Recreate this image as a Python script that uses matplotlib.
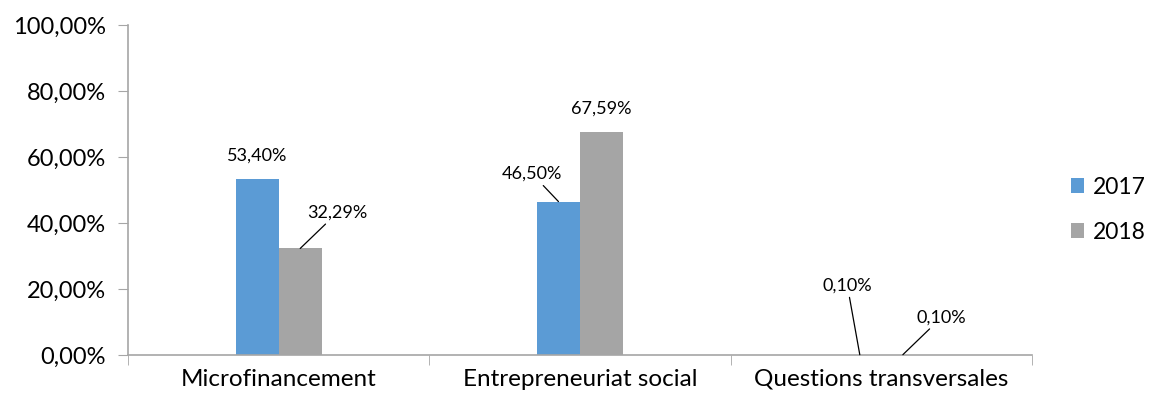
import numpy as np
import matplotlib
matplotlib.use("Agg")
from matplotlib import pyplot as plt

categories = ["Microfinancement", "Entrepreneuriat social", "Questions transversales"]
years = ["2017", "2018"]
values_2017 = [53.40, 46.50, 0.10]
values_2018 = [32.29, 67.59, 0.10]
yticks = [0, 20, 40, 60, 80, 100]

# label offsets in points (dx, dy) from the bar top, and whether a leader line is drawn
offs_2017 = [(0, 17, False), (-19, 20, True), (-9, 50, True)]
offs_2018 = [(27, 26, True), (0, 17, False), (28, 27, True)]

plt.rcParams['font.family'] = ['Lato', 'DejaVu Sans']

fig = plt.figure(figsize=(11.51, 4.0), dpi=100)
ax = fig.add_axes([128/1151, 45/400, (1032-128)/1151, 330/400])

x = np.arange(len(categories))
w = 0.143
colors = ['#5B9BD5', '#A5A5A5']
b1 = ax.bar(x - w/2, values_2017, w, color=colors[0], label=years[0])
b2 = ax.bar(x + w/2, values_2018, w, color=colors[1], label=years[1])

def fmt(v):
    return ("%.2f%%" % v).replace('.', ',')

for bars, vals, offs in [(b1, values_2017, offs_2017), (b2, values_2018, offs_2018)]:
    for bar, v, (dx, dy, lead) in zip(bars, vals, offs):
        xy = (bar.get_x() + bar.get_width()/2, v)
        props = dict(arrowstyle='-', color='black', lw=0.9, shrinkA=1, shrinkB=0) if lead else None
        ax.annotate(fmt(v), xy=xy, xytext=(dx, dy), textcoords='offset points',
                    ha='center', va='center', fontsize=13, arrowprops=props)

ax.set_xlim(-0.5, 2.5)
ax.set_ylim(0, 100)
ax.set_yticks(yticks)
ax.set_yticklabels([fmt(t) for t in yticks], fontsize=17)
ax.set_xticks(x)
ax.set_xticklabels(categories, fontsize=17.5)
ax.tick_params(axis='x', length=0, pad=10)
ax.set_xticks([-0.5, 0.5, 1.5, 2.5], minor=True)
ax.tick_params(axis='x', which='minor', length=7, color='#A6A6A6', direction='out')
ax.tick_params(axis='y', length=7, color='#A6A6A6', direction='out', pad=9)
for s in ['top', 'right']:
    ax.spines[s].set_visible(False)
for s in ['left', 'bottom']:
    ax.spines[s].set_color('#A6A6A6')
    ax.spines[s].set_linewidth(1.2)

ax.legend(loc='center left', bbox_to_anchor=(1.02, 0.44), frameon=False, fontsize=16.5,
          handlelength=0.6, handleheight=0.6, handletextpad=0.35, labelspacing=1.05)

fig.savefig("out.png", dpi=100)
